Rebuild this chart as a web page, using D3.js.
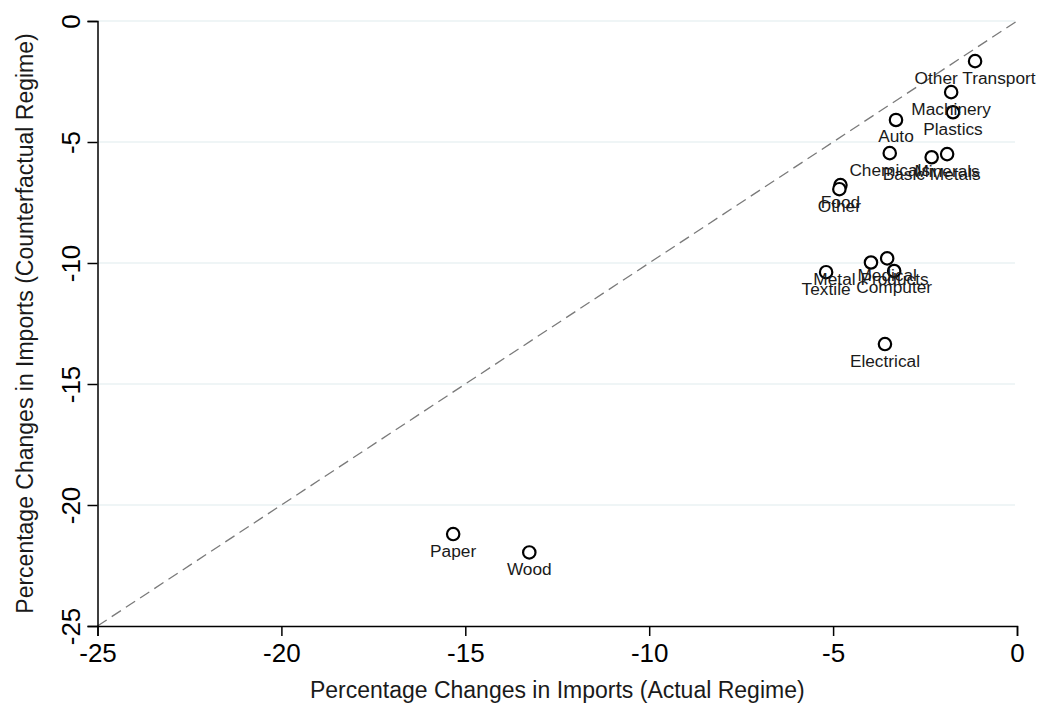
<!DOCTYPE html>
<html>
<head>
<meta charset="utf-8">
<script src="https://cdn.jsdelivr.net/npm/d3@7"></script>
<style>
  html, body { margin: 0; padding: 0; background: #fff; }
  svg { display: block; font-family: "Liberation Sans", Arial, sans-serif; }
</style>
</head>
<body>
<svg id="chart" width="1037" height="706"></svg>
<script>
// Industry-level percentage changes in imports
const industries = ["Other Transport", "Machinery", "Plastics", "Auto", "Chemicals", "Basic Metals", "Minerals",
  "Food", "Other", "Metal Products", "Medical", "Textile", "Computer", "Electrical", "Paper", "Wood"];
const actualRegime = [-1.14, -1.79, -1.74, -3.29, -3.46, -2.32, -1.90,
  -4.80, -4.83, -3.97, -3.53, -5.19, -3.34, -3.59, -15.33, -13.26];
const counterfactualRegime = [-1.66, -2.94, -3.77, -4.09, -5.46, -5.63, -5.50,
  -6.78, -6.95, -9.98, -9.81, -10.38, -10.33, -13.35, -21.20, -21.96];
const xTicks = [-25, -20, -15, -10, -5, 0];
const yTicks = [0, -5, -10, -15, -20, -25];
const gridTicks = [0, -5, -10, -15, -20];

const svg = d3.select("#chart");
const plotLeft = 97.5, plotRight = 1017, plotTop = 21, plotBottom = 626;

const x = d3.scaleLinear().domain([-25, 0]).range([plotLeft, plotRight]);
const y = d3.scaleLinear().domain([-25, 0]).range([plotBottom, plotTop]);
const fmt = d => String(d);

// horizontal grid
svg.append("g").selectAll("line").data(gridTicks).join("line")
  .attr("x1", plotLeft).attr("x2", plotRight - 2)
  .attr("y1", d => y(d)).attr("y2", d => y(d))
  .attr("stroke", "#eaf2f3").attr("stroke-width", 1.5);

// 45-degree reference line
svg.append("line")
  .attr("x1", x(-25)).attr("y1", y(-25))
  .attr("x2", x(0)).attr("y2", y(0))
  .attr("stroke", "#7a7a7a").attr("stroke-width", 1.3)
  .attr("stroke-dasharray", "11,6");

// axes
const xAxis = svg.append("g").attr("transform", `translate(0,${plotBottom})`)
  .call(d3.axisBottom(x).tickValues(xTicks).tickSize(10).tickPadding(8).tickFormat(fmt));
const yAxis = svg.append("g").attr("transform", `translate(${plotLeft},0)`)
  .call(d3.axisLeft(y).tickValues(yTicks).tickSize(10).tickPadding(6).tickFormat(fmt));

[xAxis, yAxis].forEach(g => {
  g.select(".domain").attr("stroke", "#000").attr("stroke-width", 1.5);
  g.selectAll(".tick line").attr("stroke", "#000").attr("stroke-width", 1.5);
  g.selectAll(".tick text").attr("fill", "#000").style("font-size", "26px")
    .style("font-family", "\"Liberation Sans\", Arial, sans-serif");
});
xAxis.selectAll(".tick text").attr("dy", "0.71em");
yAxis.selectAll(".tick text")
  .attr("x", null).attr("dy", null)
  .attr("text-anchor", "middle")
  .attr("dominant-baseline", "central")
  .attr("transform", "translate(-27,0) rotate(-90)");

// markers
const pts = industries.map((name, i) => ({ name, ax: actualRegime[i], cf: counterfactualRegime[i] }));

svg.append("g").selectAll("circle").data(pts).join("circle")
  .attr("cx", d => x(d.ax)).attr("cy", d => y(d.cf)).attr("r", 6.2)
  .attr("fill", "#fff").attr("stroke", "#000").attr("stroke-width", 2.2);

// labels below each marker
svg.append("g").selectAll("text").data(pts).join("text")
  .attr("x", d => x(d.ax)).attr("y", d => y(d.cf) + 16.5)
  .attr("text-anchor", "middle").attr("dominant-baseline", "central")
  .style("font-size", "17.3px").attr("fill", "#1a1a1a")
  .text(d => d.name);

// axis titles
svg.append("text")
  .attr("x", (plotLeft + plotRight) / 2).attr("y", 690)
  .attr("text-anchor", "middle").attr("dominant-baseline", "central")
  .style("font-size", "23px").attr("fill", "#1a1a1a")
  .text("Percentage Changes in Imports (Actual Regime)");
svg.append("text")
  .attr("transform", `translate(25,${(plotTop + plotBottom) / 2}) rotate(-90)`)
  .attr("text-anchor", "middle").attr("dominant-baseline", "central")
  .style("font-size", "23px").attr("fill", "#1a1a1a")
  .text("Percentage Changes in Imports (Counterfactual Regime)");
</script>
</body>
</html>
